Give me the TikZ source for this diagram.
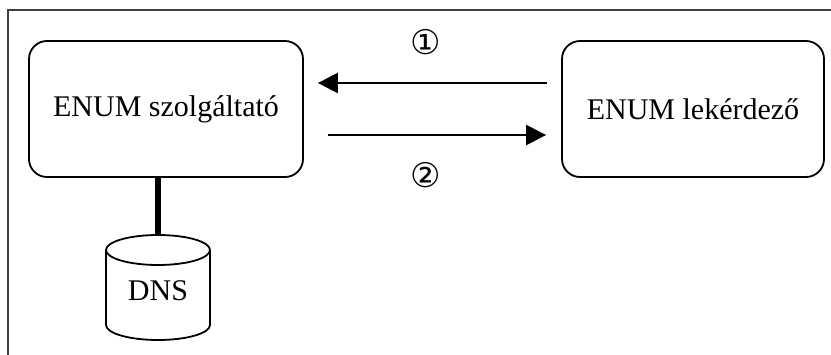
\documentclass[tikz,border=0pt]{standalone}
\usepackage{fontspec}
\setmainfont{Liberation Serif}
\newfontfamily\symfont{DejaVu Sans}
\usetikzlibrary{arrows.meta}
\begin{document}
\begin{tikzpicture}[x=1pt,y=-1pt,
  boxstyle/.style={draw=black, line width=1.8pt, rounded corners=18pt, fill=white,
    font=\fontsize{30}{36}\selectfont, inner sep=0pt},
  arr/.style={line width=2.5pt, -{Triangle[length=20pt,width=20pt]}},
  numlab/.style={font=\symfont\fontsize{34}{38}\selectfont, inner sep=0pt},
  cyl/.style={draw=black, line width=1.8pt, fill=white}]
\useasboundingbox (0,0) rectangle (831,354);
\fill[white] (0,0) rectangle (831,354);
% outer frame (open at right and bottom)
\draw[line width=1.4pt, black!75] (8,360) -- (8,10) -- (840,10);
% boxes
\node[boxstyle, minimum width=274pt, minimum height=136pt] (srv) at (166,109) {ENUM szolgáltató};
\node[boxstyle, minimum width=262pt, minimum height=136pt] (cli) at (693,109) {ENUM lekérdező};
% arrows
\draw[arr] ([xshift=-14pt,yshift=26pt]cli.west) -- ([xshift=14pt,yshift=26pt]srv.east);
\draw[arr] ([xshift=24pt,yshift=-26pt]srv.east) -- ([xshift=-15pt,yshift=-26pt]cli.west);
\node[numlab] (n1) at (426,42) {①};
\node[numlab] (n2) at (426,175) {②};
% DNS cylinder
\coordinate (dbtop) at (158,235);
\draw[line width=6pt] (srv.south -| dbtop) -- (dbtop);
\draw[cyl] (106,250) -- (106,325) arc[start angle=180,end angle=360,x radius=52pt,y radius=15pt] -- (210,250);
\draw[cyl] (158,250) ellipse[x radius=52pt,y radius=15pt];
\node[font=\fontsize{30}{36}\selectfont, inner sep=0pt] (dns) at (158,291) {DNS};
\end{tikzpicture}
\end{document}
